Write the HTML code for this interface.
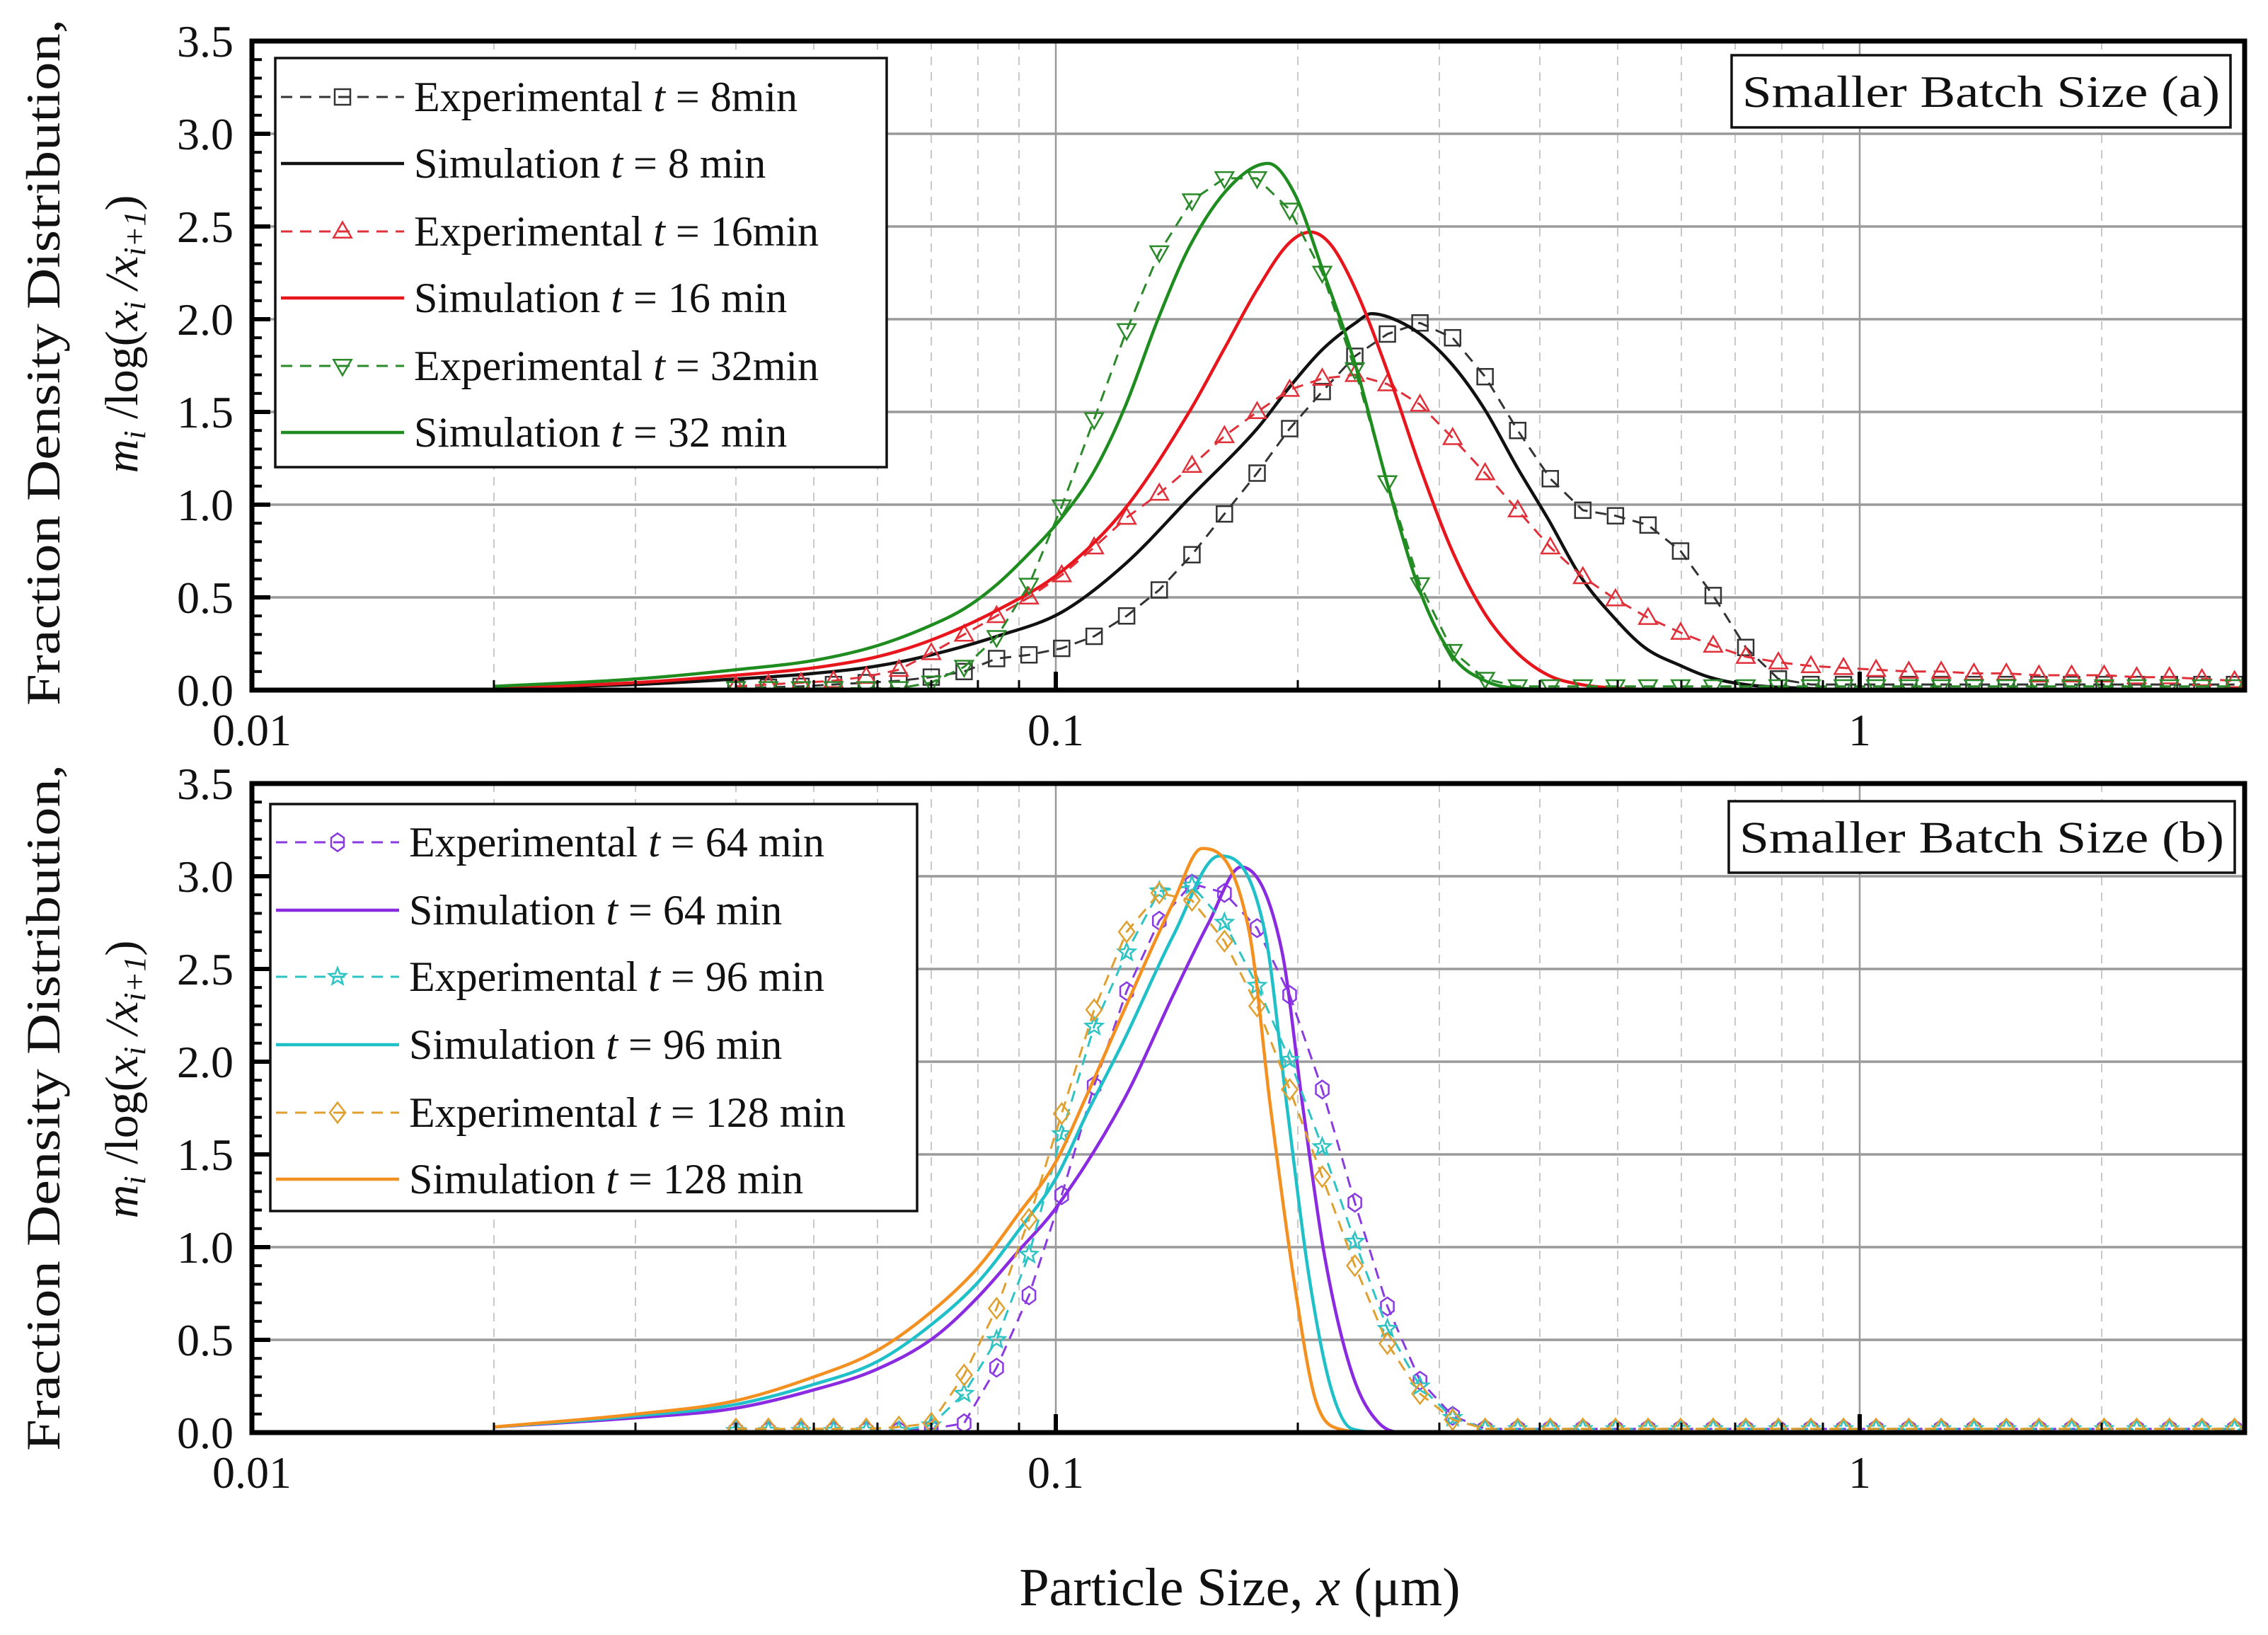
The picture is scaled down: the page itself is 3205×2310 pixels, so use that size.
<!DOCTYPE html>
<html><head><meta charset="utf-8"><style>
html,body{margin:0;padding:0;background:#fff;}
svg{display:block;font-family:"Liberation Serif",serif;}
</style></head><body>
<svg id="chart" xmlns="http://www.w3.org/2000/svg" width="3205" height="2310" viewBox="0 0 3205 2310">
<rect width="3205" height="2310" fill="#fff"/>
<g id="root"></g>
</svg>
<script>
// ---------- data ----------
const expX = [0.0400,0.0439,0.0482,0.0529,0.0581,0.0638,0.0700,0.0769,0.0844,0.0926,
 0.1017,0.1116,0.1225,0.1345,0.1477,0.1621,0.1780,0.1954,0.2145,0.2355,
 0.2585,0.2838,0.3116,0.3420,0.3755,0.4122,0.4525,0.4968,0.5454,0.5987,
 0.6573,0.7216,0.7922,0.8696,0.9547,1.048,1.151,1.263,1.387,1.522,
 1.671,1.835,2.014,2.211,2.428,2.665,2.926];
const exp8 = [0.01,0.015,0.02,0.03,0.04,0.05,0.07,0.10,0.17,0.19,
 0.225,0.29,0.40,0.54,0.73,0.95,1.17,1.41,1.61,1.80,1.92,1.98,1.90,1.69,1.40,1.14,0.97,0.94,0.89,0.75,0.51,0.23,
 0.06,0.03,0.03,0.03,0.03,0.03,0.03,0.03,0.03,0.03,0.03,0.03,0.03,0.03,0.03];
const exp16 = [0.02,0.03,0.04,0.05,
 0.072,0.11,0.20,0.30,0.40,0.50,0.62,0.77,0.93,1.06,1.21,1.37,1.50,1.62,1.68,1.70,1.65,1.54,1.36,1.17,0.97,0.77,0.61,0.49,0.39,0.31,0.24,0.18,
 0.15,0.13,0.12,0.11,0.10,0.10,0.09,0.09,0.08,0.08,0.08,0.07,0.07,0.06,0.05];
const exp32 = [0.01,0.01,0.01,0.01,0.01,0.01,
 0.04,0.125,0.285,0.567,0.99,1.46,1.94,2.36,2.64,2.76,2.76,2.59,2.25,1.73,1.12,0.57,0.21,0.06,
 0.02,0.02,0.02,0.02,0.02,0.02,0.02,0.02,0.02,0.02,0.02,0.02,0.02,0.02,0.02,0.02,0.02,0.02,0.02,0.02,0.02,0.02,0.02];
const exp64 = [0.01,0.01,0.01,0.01,0.01,0.01,
 0.02,0.05,0.35,0.74,1.28,1.87,2.38,2.76,2.96,2.91,2.72,2.36,1.85,1.24,0.68,0.28,0.09,
 0.02,0.02,0.02,0.02,0.02,0.02,0.02,0.02,0.02,0.02,0.02,0.02,0.02,0.02,0.02,0.02,0.02,0.02,0.02,0.02,0.02,0.02,0.02,0.02];
const exp96 = [0.01,0.01,0.01,0.01,0.01,0.01,
 0.04,0.21,0.50,0.96,1.61,2.19,2.59,2.92,2.95,2.75,2.41,2.01,1.54,1.03,0.56,0.25,0.08,
 0.02,0.02,0.02,0.02,0.02,0.02,0.02,0.02,0.02,0.02,0.02,0.02,0.02,0.02,0.02,0.02,0.02,0.02,0.02,0.02,0.02,0.02,0.02,0.02];
const exp128 = [0.02,0.02,0.02,0.02,0.02,
 0.03,0.05,0.31,0.67,1.15,1.72,2.28,2.70,2.91,2.87,2.65,2.30,1.85,1.38,0.90,0.48,0.21,0.07,
 0.02,0.02,0.02,0.02,0.02,0.02,0.02,0.02,0.02,0.02,0.02,0.02,0.02,0.02,0.02,0.02,0.02,0.02,0.02,0.02,0.02,0.02,0.02,0.02];

const sim8X = [0.02,0.03,0.04,0.05,0.06,0.07,0.0845,0.1017,0.122,0.147,0.178,0.195,0.215,0.236,0.247,0.26,0.284,0.312,0.342,0.375,0.41,0.45,0.495,0.54,0.6,0.65,0.72,0.85,1.0,3];
const sim8Y = [0.01,0.03,0.06,0.09,0.13,0.19,0.29,0.42,0.68,1.04,1.41,1.63,1.84,1.98,2.03,2.01,1.92,1.75,1.51,1.20,0.92,0.61,0.39,0.23,0.13,0.07,0.03,0.01,0.0,0.0];
const sim16X = [0.02,0.03,0.04,0.05,0.06,0.07,0.0845,0.1017,0.122,0.147,0.162,0.178,0.195,0.2075,0.22,0.236,0.259,0.284,0.312,0.342,0.375,0.41,0.45,0.5,0.6,3];
const sim16Y = [0.01,0.04,0.08,0.12,0.18,0.27,0.43,0.64,0.98,1.51,1.84,2.16,2.41,2.47,2.40,2.16,1.71,1.20,0.74,0.41,0.20,0.08,0.03,0.01,0,0];
const sim32X = [0.02,0.03,0.04,0.05,0.06,0.07,0.077,0.0845,0.0928,0.1017,0.1116,0.122,0.134,0.147,0.165,0.1837,0.198,0.215,0.236,0.259,0.284,0.312,0.342,0.375,0.5,3];
const sim32Y = [0.02,0.06,0.11,0.16,0.24,0.35,0.44,0.57,0.74,0.93,1.18,1.53,2.00,2.40,2.72,2.84,2.68,2.26,1.75,1.10,0.53,0.18,0.05,0.01,0,0];
const sim64X = [0.02,0.0301,0.0398,0.05,0.0598,0.0704,0.080,0.0899,0.1,0.1217,0.14,0.155,0.17,0.191,0.203,0.216,0.2336,0.2525,0.273,3];
const sim64Y = [0.03,0.08,0.13,0.23,0.34,0.51,0.73,0.98,1.21,1.80,2.36,2.75,3.05,2.6,1.75,0.95,0.32,0.05,0.0,0];
const sim96X = [0.02,0.0301,0.0398,0.05,0.0598,0.0704,0.080,0.0899,0.1,0.1093,0.1217,0.14,0.1597,0.182,0.194,0.2064,0.2196,0.2336,0.26,3];
const sim96Y = [0.03,0.09,0.15,0.26,0.38,0.59,0.81,1.09,1.37,1.72,2.12,2.68,3.11,2.70,1.75,0.85,0.25,0.02,0,0];
const sim128X = [0.02,0.0301,0.0398,0.05,0.0598,0.0704,0.080,0.0899,0.1,0.1093,0.1217,0.14,0.152,0.174,0.185,0.198,0.21,0.225,0.25,3];
const sim128Y = [0.03,0.10,0.17,0.30,0.44,0.66,0.89,1.18,1.46,1.82,2.28,2.86,3.15,2.70,1.75,0.81,0.19,0.02,0,0];

const yTicks = ["0.0","0.5","1.0","1.5","2.0","2.5","3.0","3.5"];
const xTicks = ["0.01","0.1","1"];

// ---------- layout ----------
const NS = "http://www.w3.org/2000/svg";
const root = document.getElementById("root");
const L = 356, R = 3172, DEC = 1136;
function sx(x){ return L + DEC * Math.log10(x / 0.01); }
function mk(tag, attrs, parent){ const e = document.createElementNS(NS, tag); for (const k in attrs) e.setAttribute(k, attrs[k]); (parent||root).appendChild(e); return e; }

// monotone cubic (Fritsch-Carlson)
function smoothPath(pts){
  const n = pts.length, d = [], m = new Array(n);
  for (let i = 0; i < n-1; i++) d.push((pts[i+1][1]-pts[i][1])/(pts[i+1][0]-pts[i][0]));
  m[0] = d[0]; m[n-1] = d[n-2];
  for (let i = 1; i < n-1; i++) m[i] = (d[i-1]*d[i] <= 0) ? 0 : (d[i-1]+d[i])/2;
  for (let i = 0; i < n-1; i++){
    if (d[i] === 0){ m[i] = 0; m[i+1] = 0; continue; }
    const a = m[i]/d[i], b = m[i+1]/d[i], s = a*a+b*b;
    if (s > 9){ const t = 3/Math.sqrt(s); m[i] = t*a*d[i]; m[i+1] = t*b*d[i]; }
  }
  let p = "M" + pts[0][0].toFixed(1) + "," + pts[0][1].toFixed(1);
  for (let i = 0; i < n-1; i++){
    const h = (pts[i+1][0]-pts[i][0])/3;
    p += " C" + (pts[i][0]+h).toFixed(1) + "," + (pts[i][1]+m[i]*h).toFixed(1) + " " +
         (pts[i+1][0]-h).toFixed(1) + "," + (pts[i+1][1]-m[i+1]*h).toFixed(1) + " " +
         pts[i+1][0].toFixed(1) + "," + pts[i+1][1].toFixed(1);
  }
  return p;
}

function marker(g, type, cx, cy, color, s){
  const a = {fill:"none", stroke:color, "stroke-width":2.5};
  let e;
  if (type === "square") e = mk("rect", Object.assign({x:cx-s, y:cy-s, width:2*s, height:2*s}, a), g);
  else if (type === "up") e = mk("polygon", Object.assign({points:`${cx},${cy-s*1.2} ${cx-s*1.15},${cy+s*0.8} ${cx+s*1.15},${cy+s*0.8}`}, a), g);
  else if (type === "down") e = mk("polygon", Object.assign({points:`${cx},${cy+s*1.2} ${cx-s*1.15},${cy-s*0.8} ${cx+s*1.15},${cy-s*0.8}`}, a), g);
  else if (type === "hex"){ let p=[]; for(let i=0;i<6;i++){const t=Math.PI/3*i+Math.PI/6; p.push((cx+s*0.95*Math.cos(t)).toFixed(1)+","+(cy+s*1.15*Math.sin(t)).toFixed(1));} e = mk("polygon", Object.assign({points:p.join(" ")}, a), g); }
  else if (type === "star"){ let p=[]; for(let i=0;i<10;i++){const r=i%2?s*0.5:s*1.15; const t=-Math.PI/2+Math.PI/5*i; p.push((cx+r*Math.cos(t)).toFixed(1)+","+(cy+r*Math.sin(t)).toFixed(1));} e = mk("polygon", Object.assign({points:p.join(" ")}, a), g); }
  else if (type === "diamond") e = mk("polygon", Object.assign({points:`${cx},${cy-s*1.3} ${cx+s},${cy} ${cx},${cy+s*1.3} ${cx-s},${cy}`}, a), g);
  
  
  return e;
}

function panel(opt){
  const T = opt.top, B = opt.bottom, H = B - T;
  const sy = v => B - H * v / 3.5;
  const g = mk("g", {});
  
  
  for (let dec = 0.01; dec < 3; dec *= 10){
    for (let m = 2; m <= 9; m++){
      const x = dec*m; if (x > 3) break;
      const gl = mk("line", {x1:sx(x), x2:sx(x), y1:T, y2:B, stroke:"#c8c8c8", "stroke-width":2, "stroke-dasharray":"12 10"}, g);
      
      
    }
  }
  [0.1, 1].forEach(x => {
    const gl = mk("line", {x1:sx(x), x2:sx(x), y1:T, y2:B, stroke:"#999", "stroke-width":2.5}, g);
    
    
  });
  for (let i = 1; i < yTicks.length - 1; i++){
    const v = parseFloat(yTicks[i]);
    const gl = mk("line", {x1:L, x2:R, y1:sy(v), y2:sy(v), stroke:"#9a9a9a", "stroke-width":3.5}, g);
    
    
  }
  const clip = mk("clipPath", {id:"clip"+opt.id}, g);
  mk("rect", {x:L, y:T-10, width:R-L, height:H+10}, clip);
  const sg = mk("g", {"clip-path":`url(#clip${opt.id})`}, g);
  opt.series.forEach(s => {
    const pts = s.x.map((x,i) => [sx(x), sy(s.y[i])]);
    if (s.dashed){
      const pl = mk("polyline", {points:pts.map(p=>p[0].toFixed(1)+","+p[1].toFixed(1)).join(" "), fill:"none", stroke:s.color, "stroke-width":3, "stroke-dasharray":"16 11"}, sg);
      
      
      const mg = mk("g", {}, sg);
      
      
      pts.forEach(p => { if (p[0] >= L && p[0] <= R) marker(mg, s.marker, p[0], p[1], s.color, 11); });
    } else {
      const pa = mk("path", {d:smoothPath(pts), fill:"none", stroke:s.color, "stroke-width":4.5}, sg);
      
      
    }
  });
  const fr = mk("rect", {x:L, y:T, width:R-L, height:H, fill:"none", stroke:"#000", "stroke-width":7}, g);
  
  
  for (let i = 0; i <= 35; i++){
    const v = i/10, major = i % 5 === 0;
    mk("line", {x1:L, x2:L + (major?26:14), y1:sy(v), y2:sy(v), stroke:"#000", "stroke-width":major?6:4}, g);
  }
  yTicks.forEach(t => {
    const tx = mk("text", {x:330, y:sy(parseFloat(t))+22, "text-anchor":"end", "font-size":64, fill:"#111"}, g);
    tx.textContent = t;
    
    
  });
  for (let dec = 0.01; dec < 3; dec *= 10){
    for (let m = 1; m <= 9; m++){
      const x = dec*m; if (x > 3) break;
      mk("line", {x1:sx(x), x2:sx(x), y1:B, y2:B-(m===1?26:14), stroke:"#000", "stroke-width":m===1?6:3}, g);
    }
  }
  xTicks.forEach(t => {
    const tx = mk("text", {x:sx(parseFloat(t)), y:B+78, "text-anchor":"middle", "font-size":64, fill:"#111"}, g);
    tx.textContent = t;
    
    
  });
  const lb = mk("g", {}, g);
  
  
  mk("rect", {x:opt.lab[0], y:opt.lab[1], width:opt.lab[2], height:opt.lab[3], fill:"#fff", stroke:"#111", "stroke-width":3.5}, lb);
  const lt = mk("text", {x:opt.lab[0]+opt.lab[2]/2, y:opt.lab[1]+opt.lab[3]/2+22, "text-anchor":"middle", "font-size":64, fill:"#111", textLength:opt.lab[2]-30, lengthAdjust:"spacingAndGlyphs"}, lb);
  lt.textContent = opt.label;
  const lg = mk("g", {}, g);
  
  
  mk("rect", {x:opt.leg[0], y:opt.leg[1], width:opt.leg[2], height:opt.leg[3], fill:"#fff", stroke:"#111", "stroke-width":3.5}, lg);
  opt.series.forEach((s, i) => {
    const ry = opt.rows[i];
    const en = mk("g", {}, lg);
    
    
    const lx1 = opt.leg[0]+8, lx2 = opt.leg[0]+182;
    if (s.dashed){
      mk("line", {x1:lx1, x2:lx2, y1:ry, y2:ry, stroke:s.color, "stroke-width":3, "stroke-dasharray":"16 11"}, en);
      marker(en, s.marker, (lx1+lx2)/2, ry, s.color, 11);
    } else mk("line", {x1:lx1, x2:lx2, y1:ry, y2:ry, stroke:s.color, "stroke-width":4.5}, en);
    const t = mk("text", {x:opt.leg[0]+196, y:ry+20, "font-size":60, fill:"#111"}, en);
    t.appendChild(document.createTextNode(s.lab1 + " "));
    const it = mk("tspan", {"font-style":"italic"}, t); it.textContent = "t";
    t.appendChild(document.createTextNode(" = " + s.lab2));
  });
}

panel({id:"a", name:"panel-a", top:58, bottom:975, label:"Smaller Batch Size (a)", lab:[2447,78,705,102],
  leg:[389,82,864,578], rows:[137,231,327,421,517,611],
  series:[
    {name:"experimental-8min", x:expX, y:exp8, color:"#333", dashed:true, marker:"square", lab1:"Experimental", lab2:"8min"},
    {name:"simulation-8min", x:sim8X, y:sim8Y, color:"#111", lab1:"Simulation", lab2:"8 min"},
    {name:"experimental-16min", x:expX, y:exp16, color:"#e0303a", dashed:true, marker:"up", lab1:"Experimental", lab2:"16min"},
    {name:"simulation-16min", x:sim16X, y:sim16Y, color:"#e8161c", lab1:"Simulation", lab2:"16 min"},
    {name:"experimental-32min", x:expX, y:exp32, color:"#2a8a2a", dashed:true, marker:"down", lab1:"Experimental", lab2:"32min"},
    {name:"simulation-32min", x:sim32X, y:sim32Y, color:"#1e8c1e", lab1:"Simulation", lab2:"32 min"}
  ]});
panel({id:"b", name:"panel-b", top:1107, bottom:2024, label:"Smaller Batch Size (b)", lab:[2443,1132,715,101],
  leg:[382,1136,914,575], rows:[1190,1286,1380,1476,1572,1666],
  series:[
    {name:"experimental-64min", x:expX, y:exp64, color:"#8a3be0", dashed:true, marker:"hex", lab1:"Experimental", lab2:"64 min"},
    {name:"simulation-64min", x:sim64X, y:sim64Y, color:"#8a2be2", lab1:"Simulation", lab2:"64 min"},
    {name:"experimental-96min", x:expX, y:exp96, color:"#2ec4c4", dashed:true, marker:"star", lab1:"Experimental", lab2:"96 min"},
    {name:"simulation-96min", x:sim96X, y:sim96Y, color:"#20c0c8", lab1:"Simulation", lab2:"96 min"},
    {name:"experimental-128min", x:expX, y:exp128, color:"#e0a030", dashed:true, marker:"diamond", lab1:"Experimental", lab2:"128 min"},
    {name:"simulation-128min", x:sim128X, y:sim128Y, color:"#f39020", lab1:"Simulation", lab2:"128 min"}
  ]});

function yTitle(cy, nm){
  const g = mk("g", {});
  
  
  const t1 = mk("text", {x:0, y:0, transform:`translate(84,${cy}) rotate(-90)`, "text-anchor":"middle", "font-size":68, fill:"#111", textLength:970, lengthAdjust:"spacingAndGlyphs"}, g);
  t1.textContent = "Fraction Density Distribution,";
  const t2 = mk("text", {x:0, y:0, transform:`translate(194,${cy-40}) rotate(-90)`, "text-anchor":"middle", "font-size":66, fill:"#111", "font-style":"italic"}, g);
  const parts = [["m",0],["i",1],[" /",2],["log(",2],["x",0],["i",1],[" /",0],["x",0],["i+1",1],[")",2]];
  parts.forEach(p => {
    const ts = mk("tspan", {}, t2);
    if (p[1]===1){ ts.setAttribute("font-size", 44); ts.setAttribute("baseline-shift", "-25%"); }
    if (p[1]===2){ ts.setAttribute("font-style", "normal"); }
    ts.textContent = p[0];
  });
}
yTitle(512, "y-axis-title-top");
yTitle(1565, "y-axis-title-bottom");

const xt = mk("text", {x:1752, y:2268, "text-anchor":"middle", "font-size":76, fill:"#111"});


xt.appendChild(document.createTextNode("Particle Size, "));
const xi = mk("tspan", {"font-style":"italic"}, xt); xi.textContent = "x";
xt.appendChild(document.createTextNode(" (μm)"));
</script>
</body></html>
